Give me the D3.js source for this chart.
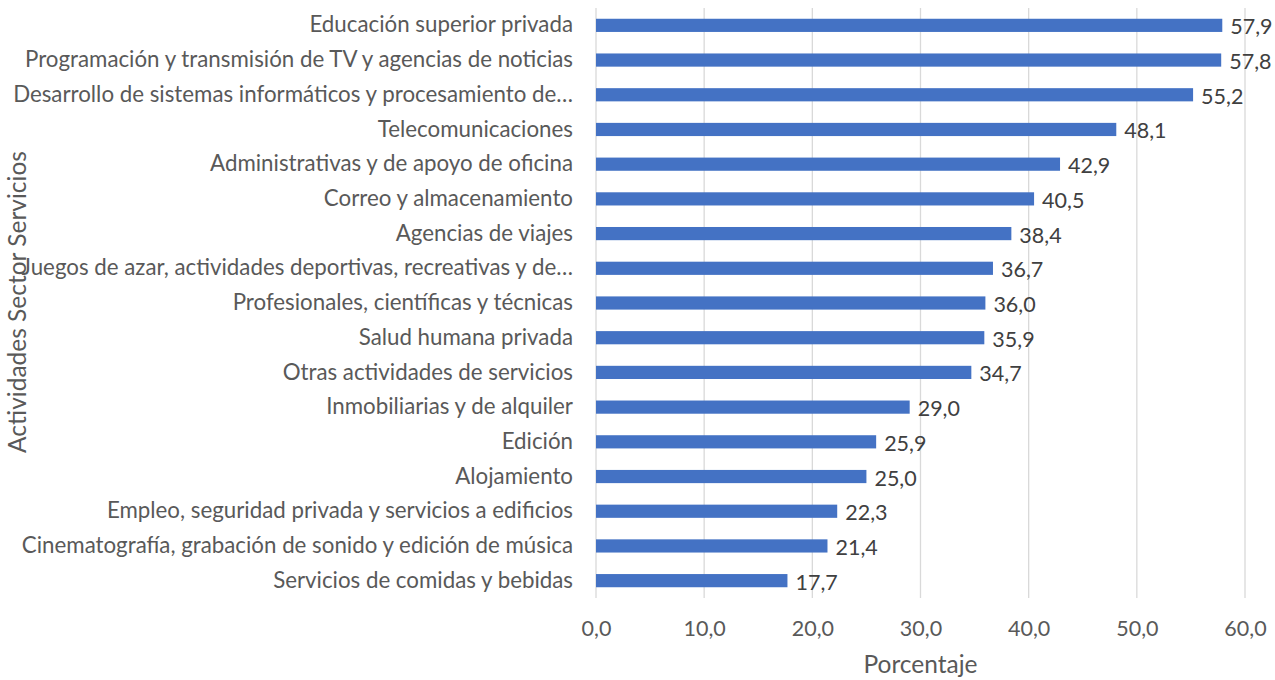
<!DOCTYPE html>
<html><head><meta charset="utf-8">
<script src="https://cdn.jsdelivr.net/npm/d3@7"></script>
<style>body{margin:0;background:#fff}text{font-family:Lato,"Liberation Sans",sans-serif}</style>
</head><body>
<svg id="c" width="1275" height="680"></svg>
<script>
const categories = [
 "Educación superior privada",
 "Programación y transmisión de TV y agencias de noticias",
 "Desarrollo de sistemas informáticos y procesamiento de…",
 "Telecomunicaciones",
 "Administrativas y de apoyo de oficina",
 "Correo y almacenamiento",
 "Agencias de viajes",
 "Juegos de azar, actividades deportivas, recreativas y de…",
 "Profesionales, científicas y técnicas",
 "Salud humana privada",
 "Otras actividades de servicios",
 "Inmobiliarias y de alquiler",
 "Edición",
 "Alojamiento",
 "Empleo, seguridad privada y servicios a edificios",
 "Cinematografía, grabación de sonido y edición de música",
 "Servicios de comidas y bebidas"
];
const values = [57.9,57.8,55.2,48.1,42.9,40.5,38.4,36.7,36.0,35.9,34.7,29.0,25.9,25.0,22.3,21.4,17.7];
const xTicks = [0,10,20,30,40,50,60];
const xTitle = "Porcentaje";
const yTitle = "Actividades Sector Servicios";

const svg = d3.select("#c");
const L=596, R=1245, T=8, B=598;
const fmt = v => v.toFixed(1).replace(".", ",");
const x = d3.scaleLinear().domain([0,60]).range([L,R]);
const y = d3.scaleBand().domain(categories).range([T,B]).paddingInner(0.62).paddingOuter(0.31);

svg.append("g").selectAll("line").data(xTicks).join("line")
  .attr("x1",d=>x(d)).attr("x2",d=>x(d)).attr("y1",T).attr("y2",B)
  .attr("stroke","#d9d9d9").attr("stroke-width",1.3);

svg.append("g").selectAll("rect").data(values).join("rect")
  .attr("x",x(0)).attr("y",(d,i)=>y(categories[i]))
  .attr("width",d=>x(d)-x(0)).attr("height",y.bandwidth())
  .attr("fill","#4472c4");

svg.append("g").selectAll("text").data(values).join("text")
  .attr("x",d=>x(d)+8).attr("y",(d,i)=>y(categories[i])+y.bandwidth()/2+9)
  .attr("font-size",21.5).attr("fill","#404040").text(d=>fmt(d));

const xa = d3.axisBottom(x).tickValues(xTicks).tickFormat(fmt).tickSize(0).tickPadding(23);
const gx = svg.append("g").attr("transform",`translate(0,${B})`).call(xa);
gx.select(".domain").remove();
gx.selectAll("text").attr("font-size",21.5).attr("fill","#595959").attr("font-family","Lato");

const ya = d3.axisLeft(y).tickSize(0).tickPadding(23);
const gy = svg.append("g").attr("transform",`translate(${L},0)`).call(ya);
gy.select(".domain").remove();
gy.selectAll("text").attr("font-size",22.3).attr("fill","#595959").attr("font-family","Lato");

svg.append("text").attr("x",(L+R)/2).attr("y",673).attr("text-anchor","middle")
  .attr("font-size",24.5).attr("fill","#595959").text(xTitle);
svg.append("text").attr("transform","translate(26,302) rotate(-90)").attr("text-anchor","middle")
  .attr("font-size",24.5).attr("fill","#595959").text(yTitle);
</script>
</body></html>
